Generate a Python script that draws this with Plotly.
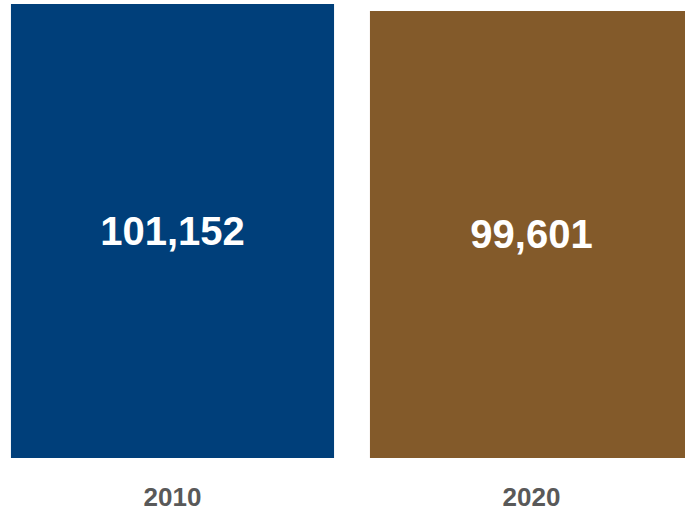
import plotly.graph_objects as go

categories = ["2010", "2020"]
values = [101152, 99601]
colors = ["#003F7A", "#835A2A"]
labels = ["101,152", "99,601"]

fig = go.Figure(go.Bar(
    x=categories,
    y=values,
    width=0.9,
    marker=dict(color=colors, line=dict(width=0)),
    text=labels,
    textposition="inside",
    insidetextanchor="middle",
    textangle=0,
    textfont=dict(family="Liberation Sans, Arial, sans-serif", size=40, color="white", weight="bold"),
    hoverinfo="skip",
))

fig.update_layout(
    width=685, height=514,
    margin=dict(l=0, r=0, t=0, b=56),
    paper_bgcolor="white",
    plot_bgcolor="white",
    showlegend=False,
    uniformtext=dict(mode=False),
)
fig.update_xaxes(
    type="category",
    range=[-0.4805, 1.4276],
    showgrid=False, zeroline=False, showline=False, ticks="",
    tickfont=dict(family="Liberation Sans, Arial, sans-serif", size=26, color="#595959", weight="bold"),
    ticklabelstandoff=21,
)
fig.update_yaxes(
    range=[0, 102043],
    visible=False,
)

fig.write_html("out.html")
